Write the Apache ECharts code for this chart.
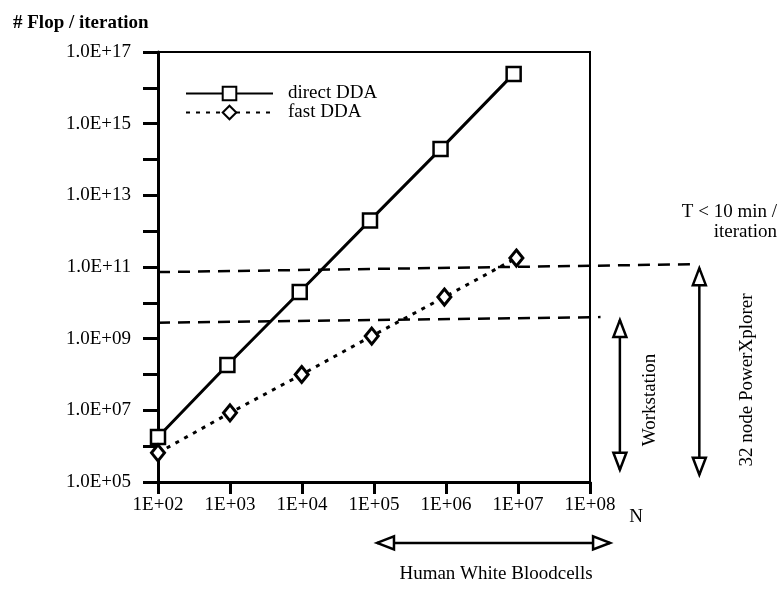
<!DOCTYPE html>
<html>
<head>
<meta charset="utf-8">
<script src="https://cdn.jsdelivr.net/npm/echarts@6/dist/echarts.min.js"></script>
<style>
  html, body { margin: 0; padding: 0; background: #fff; }
  #chart { width: 779px; height: 590px; }
</style>
</head>
<body>
<div id="chart"></div>
<script>
// measured values (log-log)
const xDirect = [100, 920, 9300, 88000, 840000, 8.7e6];
const yDirect = [1.8e6, 1.84e8, 2.0e10, 2.0e12, 1.95e14, 2.45e16];
const xFast = [100, 1000, 9900, 93000, 950000, 9.5e6];
const yFast = [6.5e5, 8.5e6, 1.0e8, 1.18e9, 1.45e10, 1.78e11];

// limits: T < 10 min / iteration (PowerXplorer) and workstation
const limitPX = [[100, 7.2e10], [3.1e9, 1.2e11]];
const limitWS = [[100, 2.8e9], [1.4e8, 4.0e9]];

// range arrows, tip to tip (data space, outside the plot)
const arrowWS = [[2.6e8, 3.3e9], [2.6e8, 2.2e5]];
const arrowPX = [[3.3e9, 9.3e10], [3.3e9, 1.6e5]];
const arrowCells = [[1.1e5, 2.0e3], [1.9e8, 2.0e3]];

const FONT = 'Liberation Serif';
const pad2 = n => (n < 10 ? '0' : '') + n;

const chart = echarts.init(document.getElementById('chart'));

const zip = (xs, ys) => xs.map((x, i) => [x, ys[i]]);

chart.setOption({
  animation: false,
  backgroundColor: '#fff',
  textStyle: { fontFamily: FONT, color: '#000' },
  title: {
    text: '# Flop / iteration',
    left: 8,
    top: 9,
    textStyle: { fontFamily: FONT, fontSize: 19, fontWeight: 'bold', color: '#000' }
  },
  legend: {
    data: ['direct DDA', 'fast DDA'],
    orient: 'vertical',
    left: 180,
    top: 79,
    itemWidth: 87,
    itemHeight: 17,
    itemGap: 0,
    textStyle: { fontFamily: FONT, fontSize: 19, color: '#000', padding: [0, 0, 0, 10] }
  },
  grid: {
    left: 158,
    right: 189,
    top: 52,
    bottom: 108,
    show: true,
    borderColor: '#000',
    borderWidth: 2,
    backgroundColor: 'transparent'
  },
  xAxis: {
    type: 'log',
    logBase: 10,
    min: 1e2,
    max: 1e8,
    splitNumber: 6,
    axisLine: { lineStyle: { color: '#000', width: 3 } },
    axisTick: { length: 12, lineStyle: { color: '#000', width: 3 } },
    splitLine: { show: false },
    axisLabel: {
      margin: 14,
      fontFamily: FONT,
      fontSize: 19,
      color: '#000',
      formatter: v => '1E+' + pad2(Math.round(Math.log10(v)))
    }
  },
  yAxis: {
    type: 'log',
    logBase: 10,
    min: 1e5,
    max: 1e17,
    interval: 1,
    axisLine: { lineStyle: { color: '#000', width: 3 } },
    axisTick: { length: 15, lineStyle: { color: '#000', width: 3 } },
    splitLine: { show: false },
    axisLabel: {
      margin: 27,
      fontFamily: FONT,
      fontSize: 19,
      color: '#000',
      formatter: v => {
        const e = Math.round(Math.log10(v));
        return e % 2 === 1 ? '1.0E+' + pad2(e) : '';
      }
    }
  },
  series: [
    {
      name: 'direct DDA',
      type: 'line',
      data: zip(xDirect, yDirect),
      symbol: 'rect',
      symbolSize: 14,
      lineStyle: { color: '#000', width: 3 },
      itemStyle: { color: '#fff', borderColor: '#000', borderWidth: 2.5 },
      z: 4
    },
    {
      name: 'fast DDA',
      type: 'line',
      data: zip(xFast, yFast),
      symbol: 'diamond',
      symbolSize: [13, 16],
      lineStyle: { color: '#000', width: 3, type: [4, 6] },
      itemStyle: { color: '#fff', borderColor: '#000', borderWidth: 3 },
      z: 4
    }
  ]
});

// annotations outside the plot, placed through the axes
const px = p => chart.convertToPixel({ xAxisIndex: 0, yAxisIndex: 0 }, p);

function dashed(pts) {
  const a = px(pts[0]), b = px(pts[1]);
  return {
    type: 'line', z: 3, silent: true,
    shape: { x1: a[0], y1: a[1], x2: b[0], y2: b[1] },
    style: { stroke: '#000', lineWidth: 2.5, lineDash: [12, 8] }
  };
}

function head(tip, from) {
  const dx = from[0] - tip[0], dy = from[1] - tip[1];
  const len = Math.hypot(dx, dy), ux = dx / len, uy = dy / len;
  const L = 17, W = 6.5;
  const bx = tip[0] + ux * L, by = tip[1] + uy * L;
  return {
    type: 'polygon', z: 6, silent: true,
    shape: { points: [tip, [bx - uy * W, by + ux * W], [bx + uy * W, by - ux * W]] },
    style: { fill: '#fff', stroke: '#000', lineWidth: 2.5 }
  };
}

function arrow(pts) {
  const a = px(pts[0]), b = px(pts[1]);
  return [
    {
      type: 'line', z: 5, silent: true,
      shape: { x1: a[0], y1: a[1], x2: b[0], y2: b[1] },
      style: { stroke: '#000', lineWidth: 2.5 }
    },
    head(a, b),
    head(b, a)
  ];
}

const txt = (x, y, text, align, rotation) => ({
  type: 'text', x: x, y: y, silent: true, rotation: rotation || 0,
  style: { text: text, font: '19px ' + FONT, fill: '#000', align: align || 'center', verticalAlign: 'middle' }
});

chart.setOption({
  graphic: [
    dashed(limitPX),
    dashed(limitWS),
    ...arrow(arrowWS),
    ...arrow(arrowPX),
    ...arrow(arrowCells),
    txt(636, 517, 'N'),
    txt(777, 212, 'T < 10 min /', 'right'),
    txt(777, 232, 'iteration', 'right'),
    txt(650, 400, 'Workstation', 'center', Math.PI / 2),
    txt(747, 380, '32 node PowerXplorer', 'center', Math.PI / 2),
    txt(496, 574, 'Human White Bloodcells')
  ]
});
</script>
</body>
</html>
